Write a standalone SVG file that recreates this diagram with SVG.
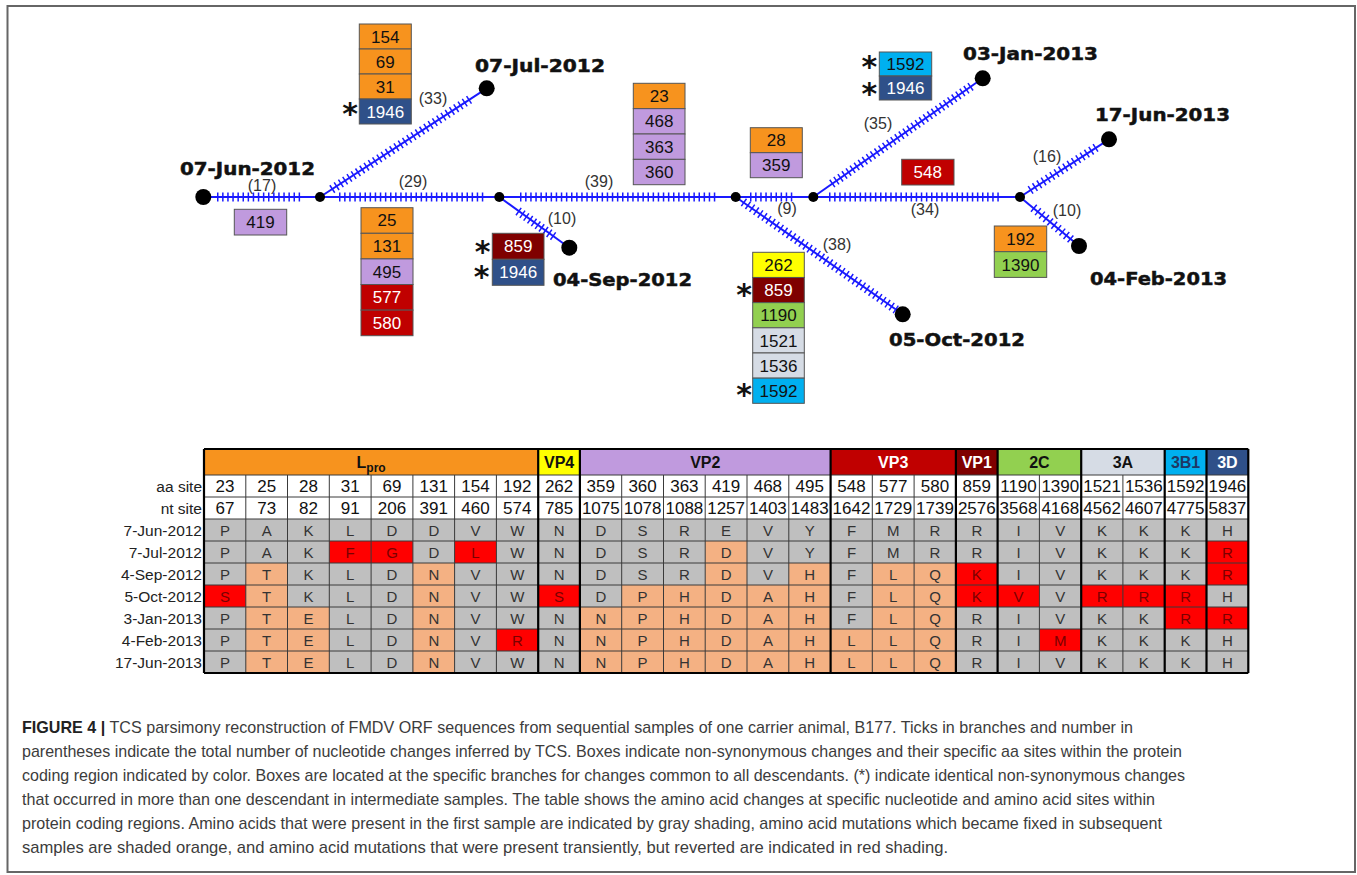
<svg xmlns="http://www.w3.org/2000/svg" width="1357" height="875" viewBox="0 0 1357 875">
<style>
.bl{stroke:#1a1aff;stroke-width:2;fill:none}
.tk{stroke:#1a1aff;stroke-width:9;fill:none;stroke-dasharray:1.5 3.6}
.dot{fill:#000}
.date{font-family:"DejaVu Sans",sans-serif;font-weight:bold;font-size:18px;fill:#111;stroke:#111;stroke-width:0.5}
.cnt{font-family:"Liberation Sans",Arial,sans-serif;font-size:16px;fill:#333;text-anchor:middle}
.bx rect{stroke:#555;stroke-width:1}
.bx text{font-family:"Liberation Sans",Arial,sans-serif;font-size:17px;text-anchor:middle;fill:#111}
.bx text.w{fill:#fff}
.bx text.ast{font-family:"DejaVu Sans",sans-serif;font-weight:bold;font-size:30px;text-anchor:middle;fill:#111}
.or{fill:#F7931E}.pu{fill:#C09ADE}.rd{fill:#C00000}.dr{fill:#7F0000}.nv{fill:#2F5089}.cy{fill:#00B0F0}.gr{fill:#92D050}.lb{fill:#D6DCE5}.ye{fill:#FFFF00}
.tg{fill:#BFBFBF}.to{fill:#F4B183}.tr{fill:#FF0000}
.tl{stroke:#3a3a3a;stroke-width:1;fill:none}
.tt{stroke:#000;stroke-width:2.2;fill:none}
.num{font-family:"Liberation Sans",Arial,sans-serif;font-size:17px;text-anchor:middle;fill:#111}
.aa text{font-family:"Liberation Sans",Arial,sans-serif;font-size:15px;text-anchor:middle;fill:#333}
.aa text.r{fill:#7A0000}
.rl{font-family:"Liberation Sans",Arial,sans-serif;font-size:15.5px;text-anchor:end;fill:#222}
.hd{font-family:"Liberation Sans",Arial,sans-serif;font-weight:bold;font-size:16px;text-anchor:middle;fill:#111}
.hd.w{fill:#fff}
.hd.n{fill:#1F3864}
.cap{font-family:"Liberation Sans",Arial,sans-serif;font-size:17px;fill:#3c3c3c}
</style>

<rect x="7.5" y="6" width="1347.5" height="866" fill="#fff" stroke="#666" stroke-width="2"/>

<!-- connectors -->
<g id="connectors">
<path class="bl" d="M203.3,197 H1020"/>
<path class="bl" d="M320,197 L486.7,88.3"/>
<path class="bl" d="M499.3,197 L569.3,247.7"/>
<path class="bl" d="M735.7,197 L902.7,314.3"/>
<path class="bl" d="M813.3,197 L982.7,78.3"/>
<path class="bl" d="M1020,197 L1109,139.3"/>
<path class="bl" d="M1020,197 L1079,246"/>
<path class="tk" d="M217,197 H300.1"/>
<path class="tk" d="M339,197 H483.3"/>
<path class="tk" d="M520,197 H715.3"/>
<path class="tk" d="M750,197 H792.3"/>
<path class="tk" d="M829,197 H998.8"/>
<path class="tk" d="M331.7,189.4 L469.7,99.4"/>
<path class="tk" style="stroke-dasharray:1.5 3.2" d="M518,211.1 L553.7,236.5"/>
<path class="tk" style="stroke-dasharray:1.5 3.46" d="M831.7,183.9 L971.2,86.3"/>
<path class="tk" style="stroke-dasharray:1.5 3.52" d="M743.3,202.05 L896.3,309.8"/>
<path class="tk" style="stroke-dasharray:1.5 3.65" d="M1030,190.25 L1096.2,147.5"/>
<path class="tk" style="stroke-dasharray:1.5 3.8" d="M1033.3,207.8 L1071.2,239.5"/>
<text class="cnt" x="262" y="191">(17)</text>
<text class="cnt" x="433" y="104">(33)</text>
<text class="cnt" x="413" y="187">(29)</text>
<text class="cnt" x="599" y="187">(39)</text>
<text class="cnt" x="562" y="224">(10)</text>
<text class="cnt" x="878" y="129">(35)</text>
<text class="cnt" x="787" y="214">(9)</text>
<text class="cnt" x="925" y="215">(34)</text>
<text class="cnt" x="837" y="250">(38)</text>
<text class="cnt" x="1047" y="162">(16)</text>
<text class="cnt" x="1067" y="216">(10)</text>
</g>

<!-- sample and intermediate nodes -->
<g id="n-jun2012"><circle class="dot" cx="203.3" cy="197" r="8"/><text class="date" x="180" y="175" textLength="135" lengthAdjust="spacingAndGlyphs">07-Jun-2012</text></g>
<g id="n-jul2012"><circle class="dot" cx="486.7" cy="88.3" r="8"/><text class="date" x="475" y="72" textLength="130" lengthAdjust="spacingAndGlyphs">07-Jul-2012</text></g>
<g id="n-sep2012"><circle class="dot" cx="569.3" cy="247.7" r="8"/><text class="date" x="553" y="286" textLength="139" lengthAdjust="spacingAndGlyphs">04-Sep-2012</text></g>
<g id="n-oct2012"><circle class="dot" cx="902.7" cy="314.3" r="8"/><text class="date" x="889" y="346" textLength="136" lengthAdjust="spacingAndGlyphs">05-Oct-2012</text></g>
<g id="n-jan2013"><circle class="dot" cx="982.7" cy="78.3" r="8"/><text class="date" x="963" y="60" textLength="135" lengthAdjust="spacingAndGlyphs">03-Jan-2013</text></g>
<g id="n-jun2013"><circle class="dot" cx="1109" cy="139.3" r="8"/><text class="date" x="1095" y="121" textLength="135" lengthAdjust="spacingAndGlyphs">17-Jun-2013</text></g>
<g id="n-feb2013"><circle class="dot" cx="1079" cy="246" r="8"/><text class="date" x="1090" y="285" textLength="137" lengthAdjust="spacingAndGlyphs">04-Feb-2013</text></g>
<g id="n-i1"><circle class="dot" cx="320" cy="197" r="5"/></g>
<g id="n-i2"><circle class="dot" cx="499.3" cy="197" r="5"/></g>
<g id="n-i3"><circle class="dot" cx="735.7" cy="197" r="5"/></g>
<g id="n-i4"><circle class="dot" cx="813.3" cy="197" r="5"/></g>
<g id="n-i5"><circle class="dot" cx="1020" cy="197" r="5"/></g>

<!-- change boxes -->
<g id="box-jul" class="bx">
<rect class="or" x="359.3" y="24" width="52" height="25"/><text x="385.3" y="42.6">154</text>
<rect class="or" x="359.3" y="49" width="52" height="25"/><text x="385.3" y="67.6">69</text>
<rect class="or" x="359.3" y="74" width="52" height="25"/><text x="385.3" y="92.6">31</text>
<rect class="nv" x="359.3" y="99" width="52" height="25"/><text class="w" x="385.3" y="117.6">1946</text>
<text class="ast" x="350" y="124">*</text>
</g>
<g id="box-419" class="bx">
<rect class="pu" x="234.3" y="209.3" width="52.4" height="25.7"/><text x="260.5" y="228.2">419</text>
</g>
<g id="box-n1n2" class="bx">
<rect class="or" x="361" y="207.7" width="52" height="25.6"/><text x="387" y="226.4">25</text>
<rect class="or" x="361" y="233.3" width="52" height="25.6"/><text x="387" y="252">131</text>
<rect class="pu" x="361" y="258.9" width="52" height="25.6"/><text x="387" y="277.6">495</text>
<rect class="rd" x="361" y="284.5" width="52" height="25.6"/><text class="w" x="387" y="303.2">577</text>
<rect class="rd" x="361" y="310.1" width="52" height="25.6"/><text class="w" x="387" y="328.8">580</text>
</g>
<g id="box-sep" class="bx">
<rect class="dr" x="492.3" y="233.3" width="51.7" height="26"/><text class="w" x="518.2" y="252.2">859</text>
<rect class="nv" x="492.3" y="259.3" width="51.7" height="26"/><text class="w" x="518.2" y="278.2">1946</text>
<text class="ast"><tspan x="482.5" y="262">*</tspan><tspan x="481.5" y="287">*</tspan></text>
</g>
<g id="box-n2n3" class="bx">
<rect class="or" x="633.3" y="83.3" width="51.7" height="25.35"/><text x="659.2" y="102.1">23</text>
<rect class="pu" x="633.3" y="108.65" width="51.7" height="25.35"/><text x="659.2" y="127.4">468</text>
<rect class="pu" x="633.3" y="134" width="51.7" height="25.35"/><text x="659.2" y="152.8">363</text>
<rect class="pu" x="633.3" y="159.35" width="51.7" height="25.35"/><text x="659.2" y="178.1">360</text>
</g>
<g id="box-n3n4" class="bx">
<rect class="or" x="750.3" y="127.7" width="52" height="25"/><text x="776.3" y="146.3">28</text>
<rect class="pu" x="750.3" y="152.7" width="52" height="25"/><text x="776.3" y="171.3">359</text>
</g>
<g id="box-oct" class="bx">
<rect class="ye" x="752.7" y="252.3" width="51.6" height="25.17"/><text x="778.5" y="271">262</text>
<rect class="dr" x="752.7" y="277.47" width="51.6" height="25.17"/><text class="w" x="778.5" y="296.2">859</text>
<rect class="gr" x="752.7" y="302.64" width="51.6" height="25.17"/><text x="778.5" y="321.4">1190</text>
<rect class="lb" x="752.7" y="327.81" width="51.6" height="25.17"/><text x="778.5" y="346.5">1521</text>
<rect class="lb" x="752.7" y="352.98" width="51.6" height="25.17"/><text x="778.5" y="371.7">1536</text>
<rect class="cy" x="752.7" y="378.15" width="51.6" height="25.17"/><text x="778.5" y="396.9">1592</text>
<text class="ast" x="744" y="305">*</text>
<text class="ast" x="744" y="405">*</text>
</g>
<g id="box-jan" class="bx">
<rect class="cy" x="879.3" y="52" width="52.4" height="24"/><text x="905.5" y="70">1592</text>
<rect class="nv" x="879.3" y="76" width="52.4" height="24"/><text class="w" x="905.5" y="94">1946</text>
<text class="ast"><tspan x="869.3" y="77">*</tspan><tspan x="869.3" y="104">*</tspan></text>
</g>
<g id="box-548" class="bx">
<rect class="rd" x="901.7" y="159.3" width="52.3" height="25.7"/><text class="w" x="927.8" y="178.2">548</text>
</g>
<g id="box-feb" class="bx">
<rect class="or" x="994.3" y="226" width="52.4" height="25.7"/><text x="1020.5" y="244.9">192</text>
<rect class="gr" x="994.3" y="251.7" width="52.4" height="25.7"/><text x="1020.5" y="270.6">1390</text>
</g>

<!-- table -->
<g id="table">
<rect class="or" x="204" y="449" width="334.2" height="26"/>
<rect class="ye" x="538.2" y="449" width="41.7" height="26"/>
<rect class="pu" x="579.9" y="449" width="250.7" height="26"/>
<rect class="rd" x="830.6" y="449" width="125.3" height="26"/>
<rect class="dr" x="955.9" y="449" width="41.7" height="26"/>
<rect class="gr" x="997.6" y="449" width="83.6" height="26"/>
<rect class="lb" x="1081.2" y="449" width="83.5" height="26"/>
<rect class="cy" x="1164.7" y="449" width="41.8" height="26"/>
<rect class="nv" x="1206.5" y="449" width="41.8" height="26"/>
<rect fill="#fff" x="204" y="475" width="1044.3" height="44"/>
<rect class="tg" x="204" y="519" width="1044.3" height="154"/>
<!-- orange (fixed) cells -->
<rect class="to" x="705.2" y="541" width="41.8" height="22"/>
<rect class="to" x="245.8" y="563" width="41.7" height="22"/>
<rect class="to" x="412.9" y="563" width="41.7" height="22"/>
<rect class="to" x="705.2" y="563" width="41.8" height="22"/>
<rect class="to" x="788.8" y="563" width="41.8" height="22"/>
<rect class="to" x="872.3" y="563" width="83.6" height="22"/>
<rect class="to" x="245.8" y="585" width="41.7" height="22"/>
<rect class="to" x="412.9" y="585" width="41.7" height="22"/>
<rect class="to" x="621.7" y="585" width="208.9" height="22"/>
<rect class="to" x="872.3" y="585" width="83.6" height="22"/>
<rect class="to" x="245.8" y="607" width="83.5" height="22"/>
<rect class="to" x="412.9" y="607" width="41.7" height="22"/>
<rect class="to" x="579.9" y="607" width="250.7" height="22"/>
<rect class="to" x="872.3" y="607" width="83.6" height="22"/>
<rect class="to" x="245.8" y="629" width="83.5" height="44"/>
<rect class="to" x="412.9" y="629" width="41.7" height="44"/>
<rect class="to" x="579.9" y="629" width="376" height="44"/>
<!-- red (transient) cells -->
<rect class="tr" x="329.3" y="541" width="83.6" height="22"/>
<rect class="tr" x="454.6" y="541" width="41.8" height="22"/>
<rect class="tr" x="1206.5" y="541" width="41.8" height="44"/>
<rect class="tr" x="955.9" y="563" width="41.7" height="44"/>
<rect class="tr" x="204" y="585" width="41.8" height="22"/>
<rect class="tr" x="538.2" y="585" width="41.7" height="22"/>
<rect class="tr" x="997.6" y="585" width="41.8" height="22"/>
<rect class="tr" x="1081.2" y="585" width="125.3" height="22"/>
<rect class="tr" x="1164.7" y="607" width="83.6" height="22"/>
<rect class="tr" x="496.4" y="629" width="41.8" height="22"/>
<rect class="tr" x="1039.4" y="629" width="41.8" height="22"/>
<!-- grid -->
<path class="tl" d="M204,475H1248.3M204,497H1248.3M204,519H1248.3M204,541H1248.3M204,563H1248.3M204,585H1248.3M204,607H1248.3M204,629H1248.3M204,651H1248.3
M245.8,475V673M287.5,475V673M329.3,475V673M371.1,475V673M412.9,475V673M454.6,475V673M496.4,475V673
M621.7,475V673M663.5,475V673M705.2,475V673M747,475V673M788.8,475V673M872.3,475V673M914.1,475V673M1039.4,475V673M1122.9,475V673"/>
<path class="tt" d="M204,449H1248.3M204,673H1248.3M204,449V673M538.2,449V673M579.9,449V673M830.6,449V673M955.9,449V673M997.6,449V673M1081.2,449V673M1164.7,449V673M1206.5,449V673M1248.3,449V673"/>
<!-- headers -->
<text class="hd" x="371.1" y="467.5">L<tspan font-size="12" dy="4">pro</tspan></text>
<text class="hd" x="559.1" y="467.5">VP4</text>
<text class="hd" x="705.3" y="467.5">VP2</text>
<text class="hd w" x="893.2" y="467.5">VP3</text>
<text class="hd w" x="976.8" y="467.5">VP1</text>
<text class="hd" x="1039.4" y="467.5">2C</text>
<text class="hd" x="1122.9" y="467.5">3A</text>
<text class="hd n" x="1185.6" y="467.5">3B1</text>
<text class="hd w" x="1227.4" y="467.5">3D</text>
<!-- row labels -->
<text class="rl" x="202" y="492">aa site</text>
<text class="rl" x="202" y="514">nt site</text>
<text class="rl" x="202" y="535.5">7-Jun-2012</text>
<text class="rl" x="202" y="557.5">7-Jul-2012</text>
<text class="rl" x="202" y="579.5">4-Sep-2012</text>
<text class="rl" x="202" y="601.5">5-Oct-2012</text>
<text class="rl" x="202" y="623.5">3-Jan-2013</text>
<text class="rl" x="202" y="645.5">4-Feb-2013</text>
<text class="rl" x="202" y="667.5">17-Jun-2013</text>
<!-- aa site -->
<g class="num">
<text x="224.9" y="492">23</text><text x="266.7" y="492">25</text><text x="308.4" y="492">28</text><text x="350.2" y="492">31</text><text x="392" y="492">69</text><text x="433.8" y="492">131</text><text x="475.5" y="492">154</text><text x="517.3" y="492">192</text><text x="559.1" y="492">262</text><text x="600.8" y="492">359</text><text x="642.6" y="492">360</text><text x="684.4" y="492">363</text><text x="726.1" y="492">419</text><text x="767.9" y="492">468</text><text x="809.7" y="492">495</text><text x="851.5" y="492">548</text><text x="893.2" y="492">577</text><text x="935" y="492">580</text><text x="976.8" y="492">859</text><text x="1018.5" y="492">1190</text><text x="1060.3" y="492">1390</text><text x="1102.1" y="492">1521</text><text x="1143.8" y="492">1536</text><text x="1185.6" y="492">1592</text><text x="1227.4" y="492">1946</text>
<text x="224.9" y="514">67</text><text x="266.7" y="514">73</text><text x="308.4" y="514">82</text><text x="350.2" y="514">91</text><text x="392" y="514">206</text><text x="433.8" y="514">391</text><text x="475.5" y="514">460</text><text x="517.3" y="514">574</text><text x="559.1" y="514">785</text><text x="600.8" y="514">1075</text><text x="642.6" y="514">1078</text><text x="684.4" y="514">1088</text><text x="726.1" y="514">1257</text><text x="767.9" y="514">1403</text><text x="809.7" y="514">1483</text><text x="851.5" y="514">1642</text><text x="893.2" y="514">1729</text><text x="935" y="514">1739</text><text x="976.8" y="514">2576</text><text x="1018.5" y="514">3568</text><text x="1060.3" y="514">4168</text><text x="1102.1" y="514">4562</text><text x="1143.8" y="514">4607</text><text x="1185.6" y="514">4775</text><text x="1227.4" y="514">5837</text>
</g>
<!-- amino acids -->
<g class="aa">
<text x="224.9" y="535.5">P</text><text x="266.7" y="535.5">A</text><text x="308.4" y="535.5">K</text><text x="350.2" y="535.5">L</text><text x="392" y="535.5">D</text><text x="433.8" y="535.5">D</text><text x="475.5" y="535.5">V</text><text x="517.3" y="535.5">W</text><text x="559.1" y="535.5">N</text><text x="600.8" y="535.5">D</text><text x="642.6" y="535.5">S</text><text x="684.4" y="535.5">R</text><text x="726.1" y="535.5">E</text><text x="767.9" y="535.5">V</text><text x="809.7" y="535.5">Y</text><text x="851.5" y="535.5">F</text><text x="893.2" y="535.5">M</text><text x="935" y="535.5">R</text><text x="976.8" y="535.5">R</text><text x="1018.5" y="535.5">I</text><text x="1060.3" y="535.5">V</text><text x="1102.1" y="535.5">K</text><text x="1143.8" y="535.5">K</text><text x="1185.6" y="535.5">K</text><text x="1227.4" y="535.5">H</text>

<text x="224.9" y="557.5">P</text><text x="266.7" y="557.5">A</text><text x="308.4" y="557.5">K</text><text class="r" x="350.2" y="557.5">F</text><text class="r" x="392" y="557.5">G</text><text x="433.8" y="557.5">D</text><text class="r" x="475.5" y="557.5">L</text><text x="517.3" y="557.5">W</text><text x="559.1" y="557.5">N</text><text x="600.8" y="557.5">D</text><text x="642.6" y="557.5">S</text><text x="684.4" y="557.5">R</text><text x="726.1" y="557.5">D</text><text x="767.9" y="557.5">V</text><text x="809.7" y="557.5">Y</text><text x="851.5" y="557.5">F</text><text x="893.2" y="557.5">M</text><text x="935" y="557.5">R</text><text x="976.8" y="557.5">R</text><text x="1018.5" y="557.5">I</text><text x="1060.3" y="557.5">V</text><text x="1102.1" y="557.5">K</text><text x="1143.8" y="557.5">K</text><text x="1185.6" y="557.5">K</text><text class="r" x="1227.4" y="557.5">R</text>

<text x="224.9" y="579.5">P</text><text x="266.7" y="579.5">T</text><text x="308.4" y="579.5">K</text><text x="350.2" y="579.5">L</text><text x="392" y="579.5">D</text><text x="433.8" y="579.5">N</text><text x="475.5" y="579.5">V</text><text x="517.3" y="579.5">W</text><text x="559.1" y="579.5">N</text><text x="600.8" y="579.5">D</text><text x="642.6" y="579.5">S</text><text x="684.4" y="579.5">R</text><text x="726.1" y="579.5">D</text><text x="767.9" y="579.5">V</text><text x="809.7" y="579.5">H</text><text x="851.5" y="579.5">F</text><text x="893.2" y="579.5">L</text><text x="935" y="579.5">Q</text><text class="r" x="976.8" y="579.5">K</text><text x="1018.5" y="579.5">I</text><text x="1060.3" y="579.5">V</text><text x="1102.1" y="579.5">K</text><text x="1143.8" y="579.5">K</text><text x="1185.6" y="579.5">K</text><text class="r" x="1227.4" y="579.5">R</text>

<text class="r" x="224.9" y="601.5">S</text><text x="266.7" y="601.5">T</text><text x="308.4" y="601.5">K</text><text x="350.2" y="601.5">L</text><text x="392" y="601.5">D</text><text x="433.8" y="601.5">N</text><text x="475.5" y="601.5">V</text><text x="517.3" y="601.5">W</text><text class="r" x="559.1" y="601.5">S</text><text x="600.8" y="601.5">D</text><text x="642.6" y="601.5">P</text><text x="684.4" y="601.5">H</text><text x="726.1" y="601.5">D</text><text x="767.9" y="601.5">A</text><text x="809.7" y="601.5">H</text><text x="851.5" y="601.5">F</text><text x="893.2" y="601.5">L</text><text x="935" y="601.5">Q</text><text class="r" x="976.8" y="601.5">K</text><text class="r" x="1018.5" y="601.5">V</text><text x="1060.3" y="601.5">V</text><text class="r" x="1102.1" y="601.5">R</text><text class="r" x="1143.8" y="601.5">R</text><text class="r" x="1185.6" y="601.5">R</text><text x="1227.4" y="601.5">H</text>

<text x="224.9" y="623.5">P</text><text x="266.7" y="623.5">T</text><text x="308.4" y="623.5">E</text><text x="350.2" y="623.5">L</text><text x="392" y="623.5">D</text><text x="433.8" y="623.5">N</text><text x="475.5" y="623.5">V</text><text x="517.3" y="623.5">W</text><text x="559.1" y="623.5">N</text><text x="600.8" y="623.5">N</text><text x="642.6" y="623.5">P</text><text x="684.4" y="623.5">H</text><text x="726.1" y="623.5">D</text><text x="767.9" y="623.5">A</text><text x="809.7" y="623.5">H</text><text x="851.5" y="623.5">F</text><text x="893.2" y="623.5">L</text><text x="935" y="623.5">Q</text><text x="976.8" y="623.5">R</text><text x="1018.5" y="623.5">I</text><text x="1060.3" y="623.5">V</text><text x="1102.1" y="623.5">K</text><text x="1143.8" y="623.5">K</text><text class="r" x="1185.6" y="623.5">R</text><text class="r" x="1227.4" y="623.5">R</text>

<text x="224.9" y="645.5">P</text><text x="266.7" y="645.5">T</text><text x="308.4" y="645.5">E</text><text x="350.2" y="645.5">L</text><text x="392" y="645.5">D</text><text x="433.8" y="645.5">N</text><text x="475.5" y="645.5">V</text><text class="r" x="517.3" y="645.5">R</text><text x="559.1" y="645.5">N</text><text x="600.8" y="645.5">N</text><text x="642.6" y="645.5">P</text><text x="684.4" y="645.5">H</text><text x="726.1" y="645.5">D</text><text x="767.9" y="645.5">A</text><text x="809.7" y="645.5">H</text><text x="851.5" y="645.5">L</text><text x="893.2" y="645.5">L</text><text x="935" y="645.5">Q</text><text x="976.8" y="645.5">R</text><text x="1018.5" y="645.5">I</text><text class="r" x="1060.3" y="645.5">M</text><text x="1102.1" y="645.5">K</text><text x="1143.8" y="645.5">K</text><text x="1185.6" y="645.5">K</text><text x="1227.4" y="645.5">H</text>

<text x="224.9" y="667.5">P</text><text x="266.7" y="667.5">T</text><text x="308.4" y="667.5">E</text><text x="350.2" y="667.5">L</text><text x="392" y="667.5">D</text><text x="433.8" y="667.5">N</text><text x="475.5" y="667.5">V</text><text x="517.3" y="667.5">W</text><text x="559.1" y="667.5">N</text><text x="600.8" y="667.5">N</text><text x="642.6" y="667.5">P</text><text x="684.4" y="667.5">H</text><text x="726.1" y="667.5">D</text><text x="767.9" y="667.5">A</text><text x="809.7" y="667.5">H</text><text x="851.5" y="667.5">L</text><text x="893.2" y="667.5">L</text><text x="935" y="667.5">Q</text><text x="976.8" y="667.5">R</text><text x="1018.5" y="667.5">I</text><text x="1060.3" y="667.5">V</text><text x="1102.1" y="667.5">K</text><text x="1143.8" y="667.5">K</text><text x="1185.6" y="667.5">K</text><text x="1227.4" y="667.5">H</text>
</g>
</g>

<!-- caption -->
<g id="caption" class="cap">
<text x="22" y="733" textLength="1111" lengthAdjust="spacingAndGlyphs"><tspan font-weight="bold" fill="#222">FIGURE 4 |</tspan> TCS parsimony reconstruction of FMDV ORF sequences from sequential samples of one carrier animal, B177. Ticks in branches and number in</text>
<text x="22" y="757" textLength="1160" lengthAdjust="spacingAndGlyphs">parentheses indicate the total number of nucleotide changes inferred by TCS. Boxes indicate non-synonymous changes and their specific aa sites within the protein</text>
<text x="22" y="781" textLength="1163" lengthAdjust="spacingAndGlyphs">coding region indicated by color. Boxes are located at the specific branches for changes common to all descendants. (*) indicate identical non-synonymous changes</text>
<text x="22" y="805" textLength="1133" lengthAdjust="spacingAndGlyphs">that occurred in more than one descendant in intermediate samples. The table shows the amino acid changes at specific nucleotide and amino acid sites within</text>
<text x="22" y="829" textLength="1140" lengthAdjust="spacingAndGlyphs">protein coding regions. Amino acids that were present in the first sample are indicated by gray shading, amino acid mutations which became fixed in subsequent</text>
<text x="22" y="853" textLength="926" lengthAdjust="spacingAndGlyphs">samples are shaded orange, and amino acid mutations that were present transiently, but reverted are indicated in red shading.</text>
</g>
</svg>
